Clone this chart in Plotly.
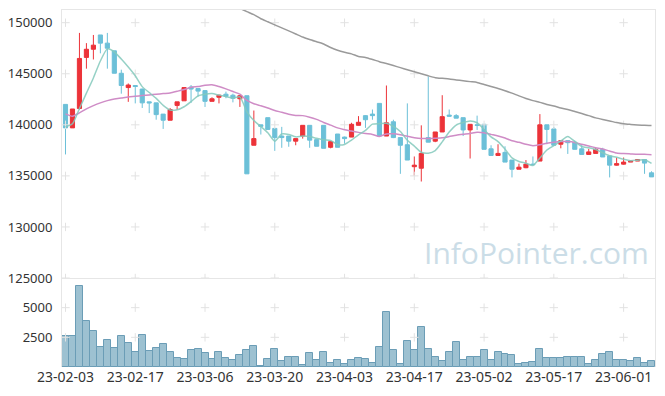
import plotly.graph_objects as go

dates = ["23-02-03","23-02-06","23-02-07","23-02-08","23-02-09","23-02-10","23-02-13","23-02-14","23-02-15","23-02-16",
         "23-02-17","23-02-20","23-02-21","23-02-22","23-02-23","23-02-24","23-02-27","23-02-28","23-03-02","23-03-03",
         "23-03-06","23-03-07","23-03-08","23-03-09","23-03-10","23-03-13","23-03-14","23-03-15","23-03-16","23-03-17",
         "23-03-20","23-03-21","23-03-22","23-03-23","23-03-24","23-03-27","23-03-28","23-03-29","23-03-30","23-03-31",
         "23-04-03","23-04-04","23-04-05","23-04-06","23-04-07","23-04-10","23-04-11","23-04-12","23-04-13","23-04-14",
         "23-04-17","23-04-18","23-04-19","23-04-20","23-04-21","23-04-24","23-04-25","23-04-26","23-04-27","23-04-28",
         "23-05-02","23-05-03","23-05-04","23-05-08","23-05-09","23-05-10","23-05-11","23-05-12","23-05-15","23-05-16",
         "23-05-17","23-05-18","23-05-19","23-05-22","23-05-23","23-05-24","23-05-25","23-05-26","23-05-30","23-05-31",
         "23-06-01","23-06-02","23-06-05","23-06-07","23-06-08"]

opens = [142000,139700,141600,146600,147400,148800,148000,147250,145050,143650,
         143850,143500,142250,142150,141050,140450,141900,142350,143700,143550,
         143350,142300,142700,143000,142900,142550,142850,138000,140000,140700,
         139650,138900,138900,138400,138900,139950,138550,139950,137800,139100,
         138800,138800,139950,140900,141050,142100,138900,140300,138750,138050,
         135900,135750,138750,138400,139300,140950,140900,140700,139500,140000,
         140050,137650,137000,137300,136550,135650,135800,136150,136450,140000,
         139600,138100,138450,138300,137650,137100,137200,137600,136950,136050,
         136150,136350,136450,136600,135300]
highs = [142000,141550,149000,148000,148800,148800,149000,147250,145400,144050,
         143850,143550,142250,142150,141050,141650,142250,143700,143900,143550,
         143400,142700,142950,143250,143050,142900,142850,141400,140000,140700,
         139650,139800,138900,138650,139950,139950,138550,139950,138350,139100,
         138850,140200,140850,140950,141500,142100,143850,140500,138750,142100,
         136900,139950,144750,139300,142900,141500,141050,140700,140050,140900,
         140050,138000,138100,137900,136550,136200,136550,136900,141050,140000,
         139800,138450,138450,138450,138050,137650,137750,137750,136950,136800,
         136800,136500,136650,136600,135450]
lows = [137100,139700,141500,145500,146400,147000,145500,145050,143050,142250,
        142100,141650,141150,140500,139600,140450,141500,142350,142150,142750,
        141750,142300,142100,142600,142200,141750,135200,138000,139050,139500,
        137450,137750,137850,138000,138650,137750,137900,137700,137700,137800,
        138150,138800,139950,139700,140500,138900,138900,138700,135200,136550,
        135000,134450,138300,138300,139300,140800,140650,138900,136700,139500,
        137600,137000,136950,136350,134850,135650,135750,136050,136450,138100,
        137950,137700,137150,137600,137100,137100,137200,136850,134850,136000,
        136100,136350,136450,135200,134900]
closes = [139700,141550,146500,147400,147800,148000,147500,145050,143850,143900,
          143750,142150,142150,141000,140450,141500,142250,143650,143500,143300,
          142300,142550,142900,142800,142600,142850,135200,138650,139850,139550,
          138750,138750,138400,138650,139950,138500,137900,137700,138350,137800,
          138650,140050,140250,140500,140900,138900,140200,138750,138000,136550,
          136050,137200,138300,139300,140800,140850,140650,139500,140050,139950,
          137600,137000,137200,136350,135650,135850,136150,136100,140000,139550,
          138000,138450,138250,137600,137100,137350,137600,136850,136050,136200,
          136350,136450,136600,136250,134900]

ma5 = [139800,140100,141600,143100,144590,146250,147440,147150,146440,145660,
       144810,143740,143160,142590,141900,141450,141470,141770,142270,142840,
       143000,143060,142910,142770,142630,142740,141270,140420,139830,139220,
       138400,139110,139060,138820,138900,138850,138680,138540,138480,138050,
       138080,138510,139020,139450,140070,140120,140150,139850,139350,138480,
       137910,137310,137220,137480,138330,139290,139980,140220,140370,140200,
       139550,138820,138360,137620,136760,136410,136240,136020,136750,137530,
       137960,138420,138850,138370,137880,137750,137580,137270,136970,136820,
       136620,136490,136540,136580,136220]
ma20 = [141070,140840,141170,141560,141880,142150,142370,142530,142630,142730,
        142790,142860,142930,142990,143060,143120,143280,143450,143670,143750,
        143880,143930,143750,143520,143260,143000,142385,142065,141865,141650,
        141400,141230,141040,140920,140900,140750,140530,140230,139975,139700,
        139520,139390,139260,139145,139060,138860,139110,139120,139025,138875,
        138740,138660,138660,138690,138730,138850,138990,139080,139160,139270,
        139220,139065,138910,138705,138440,138290,138090,137955,138055,138205,
        138300,138365,138360,138280,138090,137920,137765,137630,137430,137240,
        137180,137150,137120,137120,137080]
ma60 = [None]*23 + [
        152000,151700,151400,151090,150790,150390,150090,149790,149490,149200,
        148900,148600,148350,148130,147910,147570,147300,147100,146950,146700,
        146600,146400,146180,146000,145800,145600,145400,145200,145000,144800,
        144620,144550,144490,144400,144320,144230,144150,143950,143750,143560,
        143340,143100,142830,142580,142370,142200,142000,141850,141650,141500,
        141300,141100,140900,140680,140520,140380,140220,140100,140040,139990,
        139950,139930]
volumes = [2610,2610,6830,3880,3040,1690,2280,1600,2610,2020,
           1270,2700,1350,1600,1940,1270,760,670,1430,1520,
           1180,670,1270,760,590,1010,1430,1770,100,670,
           1520,510,840,840,170,1180,590,1270,340,590,
           250,590,760,670,340,1690,4640,1430,250,2190,
           1430,3370,1520,840,510,1270,2110,590,840,840,
           1430,590,1270,1100,1010,250,340,420,1520,760,
           760,760,840,840,840,250,590,1100,1270,590,
           590,510,760,340,510]

price_ticks = [125000, 130000, 135000, 140000, 145000, 150000]
vol_ticks = [2500, 5000]
x_ticks = dates[::10]

RED = "#ec3339"
BLUE = "#6cc0d8"
GRID = "#e6e6e6"
CROSS = "#e2e2e2"
FONT = "Noto Sans"

fig = go.Figure()

# grid crosses at tick intersections
cx = [d for d in x_ticks for _ in price_ticks]
cy = [p for _ in x_ticks for p in price_ticks]
fig.add_trace(go.Scatter(x=cx, y=cy, mode="markers", xaxis="x", yaxis="y", hoverinfo="skip",
                         marker=dict(symbol="cross-thin", size=6, color=CROSS,
                                     line=dict(color=CROSS, width=1))))
vx = [d for d in x_ticks for _ in vol_ticks]
vy = [v for _ in x_ticks for v in vol_ticks]
fig.add_trace(go.Scatter(x=vx, y=vy, mode="markers", xaxis="x2", yaxis="y2", hoverinfo="skip",
                         marker=dict(symbol="cross-thin", size=6, color=CROSS,
                                     line=dict(color=CROSS, width=1))))

fig.add_trace(go.Scatter(x=dates, y=ma60, mode="lines", xaxis="x", yaxis="y",
                         line=dict(color="#9a9a9a", width=1.5, shape="spline", smoothing=0.6)))
fig.add_trace(go.Scatter(x=dates, y=ma20, mode="lines", xaxis="x", yaxis="y",
                         line=dict(color="#cf8cc6", width=1.5, shape="spline", smoothing=0.6)))

fig.add_trace(go.Candlestick(x=dates, open=opens, high=highs, low=lows, close=closes,
                             xaxis="x", yaxis="y", whiskerwidth=0,
                             increasing=dict(line=dict(color=RED, width=1), fillcolor=RED),
                             decreasing=dict(line=dict(color=BLUE, width=1), fillcolor=BLUE)))

fig.add_trace(go.Scatter(x=dates, y=ma5, mode="lines", xaxis="x", yaxis="y", opacity=0.85,
                         line=dict(color="#84cabd", width=1.5, shape="spline", smoothing=0.6)))

fig.add_trace(go.Bar(x=dates, y=volumes, xaxis="x2", yaxis="y2",
                     marker=dict(color="#9dc1d1", line=dict(color="#6b9db6", width=1))))

fig.add_annotation(text="InfoPointer.com", xref="paper", yref="paper", x=0.993, y=0.322,
                   xanchor="right", yanchor="middle", showarrow=False,
                   font=dict(family="Open Sans", size=30, color="#cbdde7"))

dom_split = (367 - 278) / 357.0

fig.update_layout(
    width=665, height=396,
    margin=dict(l=62, r=10, t=10, b=29),
    paper_bgcolor="white", plot_bgcolor="white",
    showlegend=False, bargap=0, boxgap=0.15,
    font=dict(family=FONT, size=13, color="#333333"),
    xaxis=dict(domain=[0, 1], anchor="y", type="category", categoryorder="array", categoryarray=dates,
               range=[-0.5, len(dates) - 0.5], showticklabels=False, showgrid=False, zeroline=False,
               showline=True, linecolor=GRID, linewidth=1, mirror=True, rangeslider=dict(visible=False),
               ticks="", automargin=False),
    yaxis=dict(domain=[dom_split, 1], anchor="x", range=[125000, 151244], tickvals=price_ticks,
               tickformat="d", showgrid=False, zeroline=False, showline=True, linecolor=GRID, linewidth=1,
               mirror=True, ticks="", ticklabelstandoff=6, automargin=False),
    xaxis2=dict(domain=[0, 1], anchor="y2", type="category", categoryorder="array", categoryarray=dates,
                range=[-0.5, len(dates) - 0.5], tickvals=x_ticks, ticktext=x_ticks, showgrid=False,
                zeroline=False, showline=False, ticks="", matches="x", automargin=False,
                tickfont=dict(size=14)),
    yaxis2=dict(domain=[0, dom_split], anchor="x2", range=[0, 7500], tickvals=vol_ticks,
                tickformat="d", showgrid=False, zeroline=False, showline=True, linecolor=GRID, linewidth=1,
                mirror=True, ticks="", ticklabelstandoff=6, automargin=False),
)

fig.write_html("out.html", config={"displayModeBar": False},
               post_script="document.body.style.margin='0';document.body.style.overflow='hidden';")
